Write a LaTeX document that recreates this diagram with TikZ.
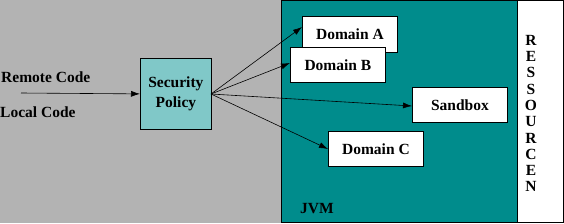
\documentclass[tikz,border=0pt]{standalone}
\usepackage{fontspec}
\setmainfont{Liberation Serif}
\usetikzlibrary{arrows.meta}
\definecolor{bggray}{RGB}{179,179,179}
\definecolor{jvmteal}{RGB}{0,140,140}
\definecolor{polteal}{RGB}{128,200,200}
\begin{document}
\begin{tikzpicture}[x=1pt,y=-1pt,
  every node/.style={font=\fontsize{15.5}{20}\selectfont\bfseries},
  box/.style={draw=black,fill=white,line width=0.8pt,inner sep=0pt},
  conn/.style={draw=black,line width=0.6pt,-{Latex[length=9pt,width=6pt]}}]
\useasboundingbox (0,0) rectangle (564,223);
\fill[bggray] (0,0) rectangle (564,223);
\filldraw[fill=jvmteal,draw=black,line width=0.8pt] (281,0.5) rectangle (517,222.5);
\filldraw[fill=white,draw=black,line width=0.8pt] (517,0.5) rectangle (563.5,222.5);
\node[box,minimum width=95pt,minimum height=36pt,anchor=north west] (da) at (302,16) {Domain A};
\node[box,minimum width=95pt,minimum height=35pt,anchor=north west] (db) at (290,47) {Domain B};
\node[box,minimum width=95pt,minimum height=35pt,anchor=north west] (sb) at (412,87) {Sandbox};
\node[box,minimum width=95pt,minimum height=35pt,anchor=north west] (dc) at (328,131) {Domain C};
\node[draw=black,fill=polteal,line width=0.8pt,minimum width=71pt,minimum height=71pt,anchor=north west,align=center,inner sep=0pt] (sp) at (140,58) {Security\\Policy};
\node[anchor=west,inner sep=0pt] (rc) at (1,77) {Remote Code};
\node[anchor=west,inner sep=0pt] (lc) at (0,112) {Local Code};
\coordinate (src) at (21,93);
\coordinate (fan) at (211,94);
\node[inner sep=0pt] (jvm) at (317,209) {JVM};
\node[inner sep=0pt,align=center,font=\fontsize{15.5}{16.3}\selectfont\bfseries] (res) at (531,113.5) {R\\E\\S\\S\\O\\U\\R\\C\\E\\N};
\draw[conn] (src) -- (sp.west);
\draw[conn] (fan) -- (da.west|-0,27);
\draw[conn] (fan) -- (db.west|-0,63);
\draw[conn] (fan) -- (sb.west|-0,106);
\draw[conn] (fan) -- (dc.west|-0,149);
\end{tikzpicture}
\end{document}
